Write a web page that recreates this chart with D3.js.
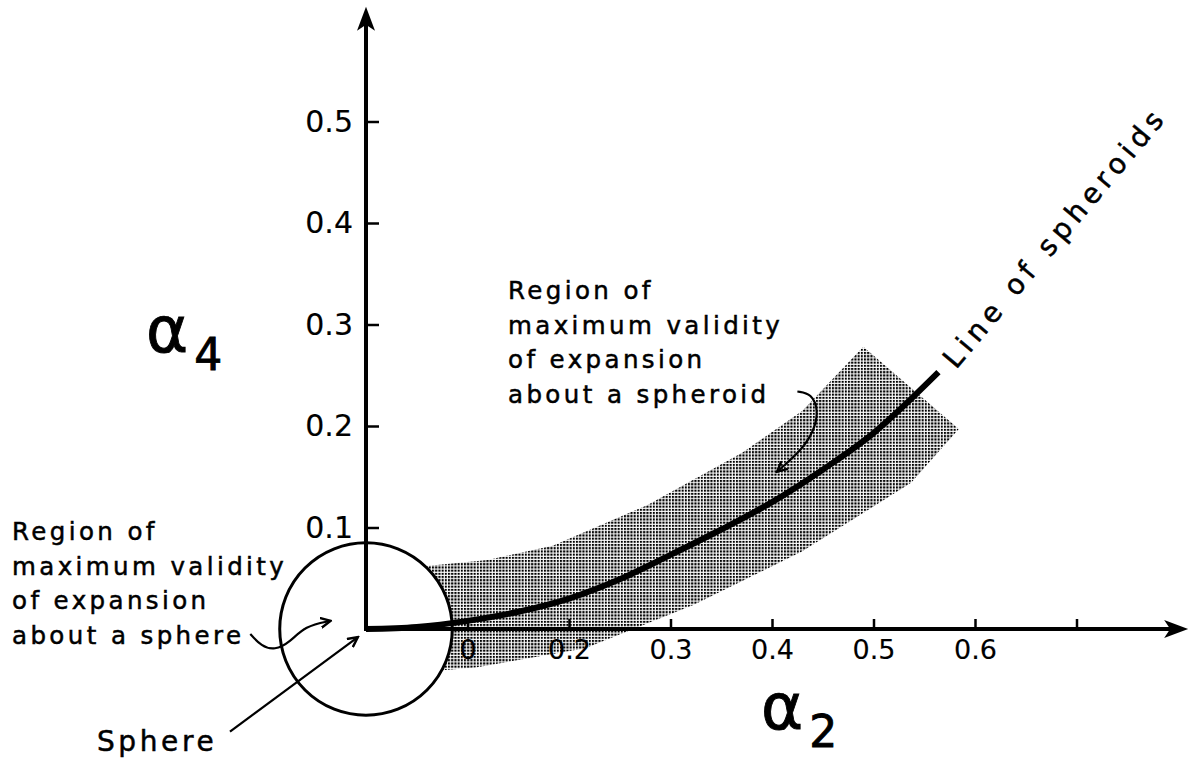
<!DOCTYPE html>
<html>
<head>
<meta charset="utf-8">
<script src="https://cdn.jsdelivr.net/npm/d3@7"></script>
<style>
  html, body { margin: 0; padding: 0; background: #fff; }
  svg { display: block; }
  text { font-family: "DejaVu Sans", sans-serif; fill: #000; stroke: #000; stroke-width: 0.5px; }
  .tick text { stroke-width: 0.15px; }
</style>
</head>
<body>
<svg id="chart" width="1189" height="759"></svg>
<script>
// axis ticks
const xTicks = [0.1, 0.2, 0.3, 0.4, 0.5, 0.6, 0.7]
const xTickLabels = ['0', '0.2', '0.3', '0.4', '0.5', '0.6', '']
const yTicks = [0.1, 0.2, 0.3, 0.4, 0.5]
const yTickLabels = ['0.1', '0.2', '0.3', '0.4', '0.5']

// line of spheroids [a2, a4]
const spheroidLine = [
  [0, 0], [0.05, 0.002], [0.1, 0.008], [0.15, 0.017], [0.2, 0.03], [0.25, 0.049],
  [0.3, 0.073], [0.35, 0.098], [0.4, 0.125], [0.45, 0.157], [0.5, 0.193], [0.564, 0.253]
]

// shaded band, upper and lower edge [a2, a4]
const bandUpper = [
  [0.0, 0.055], [0.06, 0.062], [0.12, 0.068], [0.184, 0.082], [0.277, 0.122],
  [0.371, 0.174], [0.43, 0.215], [0.49, 0.278]
]
const bandLower = [
  [0.584, 0.197], [0.537, 0.144], [0.429, 0.076], [0.323, 0.024],
  [0.216, -0.019], [0.108, -0.038], [0.02, -0.045]
]

// region about a sphere (radius in a4 units)
const sphereRegion = { a2: 0, a4: 0, r: 0.085 }

// leader lines [a2, a4]
const sphereArrow = [[-0.134, -0.101], [-0.008, -0.008]]
const sphereLeader = [[-0.114, -0.005], [-0.103, -0.017], [-0.09, -0.021], [-0.075, -0.013], [-0.06, 0.003], [-0.035, 0.008]]
const spheroidLeader = [[0.425, 0.234], [0.439, 0.232], [0.446, 0.215], [0.441, 0.194], [0.428, 0.175], [0.405, 0.155]]

const sphereText = ['Region of', 'maximum validity', 'of expansion', 'about a sphere']
const spheroidText = ['Region of', 'maximum validity', 'of expansion', 'about a spheroid']

const svg = d3.select('#chart')

const x = d3.scaleLinear().domain([0, 0.8]).range([366, 366 + 812])
const y = d3.scaleLinear().domain([0, 0.6]).range([629, 629 - 609])
const px = d => [x(d[0]), y(d[1])]

const defs = svg.append('defs')
const pat = defs.append('pattern')
  .attr('id', 'dots')
  .attr('patternUnits', 'userSpaceOnUse')
  .attr('width', 3.2).attr('height', 3.2)
pat.append('rect').attr('width', 2.1).attr('height', 2.1).attr('fill', '#000')

defs.append('marker')
  .attr('id', 'head')
  .attr('viewBox', '0 -6 12 12')
  .attr('refX', 10).attr('refY', 0)
  .attr('markerWidth', 12).attr('markerHeight', 12)
  .attr('markerUnits', 'userSpaceOnUse')
  .attr('orient', 'auto')
  .append('path')
  .attr('d', 'M0,-5L10,0L0,5')
  .attr('fill', 'none').attr('stroke', '#000').attr('stroke-width', 2.4)

// band
svg.append('path')
  .attr('d', d3.line()(bandUpper.concat(bandLower).map(px)) + 'Z')
  .attr('fill', 'url(#dots)')

// circle around the sphere
const rPx = y(0) - y(sphereRegion.r)
svg.append('circle')
  .attr('cx', x(sphereRegion.a2)).attr('cy', y(sphereRegion.a4))
  .attr('r', rPx)
  .attr('fill', '#fff').attr('stroke', '#000').attr('stroke-width', 3)

// axes
const xAxis = d3.axisBottom(x)
  .tickValues(xTicks)
  .tickFormat((d, i) => xTickLabels[i])
  .tickSizeInner(-10).tickSizeOuter(0).tickPadding(11)
const gx = svg.append('g').attr('transform', `translate(0,${y(0)})`).call(xAxis)
gx.select('.domain').remove()
gx.selectAll('.tick line').attr('stroke', '#000').attr('stroke-width', 2.5)
gx.selectAll('.tick text').attr('font-size', 27).attr('font-family', '"DejaVu Sans", sans-serif').attr('fill', '#000')

const yAxis = d3.axisLeft(y)
  .tickValues(yTicks)
  .tickFormat((d, i) => yTickLabels[i])
  .tickSizeInner(-13).tickSizeOuter(0).tickPadding(13)
const gy = svg.append('g').attr('transform', `translate(${x(0)},0)`).call(yAxis)
gy.select('.domain').remove()
gy.selectAll('.tick line').attr('stroke', '#000').attr('stroke-width', 2.5)
gy.selectAll('.tick text').attr('font-size', 30).attr('font-family', '"DejaVu Sans", sans-serif').attr('fill', '#000')

// axis lines with arrow heads
const xEnd = 0.81
const yEnd = 0.613
svg.append('line')
  .attr('x1', x(0) - 2).attr('y1', y(0)).attr('x2', x(xEnd) - 10).attr('y2', y(0))
  .attr('stroke', '#000').attr('stroke-width', 4)
svg.append('line')
  .attr('x1', x(0)).attr('y1', y(0) + 2).attr('x2', x(0)).attr('y2', y(yEnd) + 10)
  .attr('stroke', '#000').attr('stroke-width', 4)
svg.append('path')
  .attr('d', `M${x(xEnd)},${y(0)}L${x(xEnd) - 24},${y(0) - 9}L${x(xEnd) - 18},${y(0)}L${x(xEnd) - 24},${y(0) + 9}Z`)
  .attr('fill', '#000')
svg.append('path')
  .attr('d', `M${x(0)},${y(yEnd)}L${x(0) - 9},${y(yEnd) + 24}L${x(0)},${y(yEnd) + 18}L${x(0) + 9},${y(yEnd) + 24}Z`)
  .attr('fill', '#000')

// line of spheroids
svg.append('path')
  .attr('d', d3.line().curve(d3.curveCatmullRom)(spheroidLine.map(px)))
  .attr('fill', 'none').attr('stroke', '#000').attr('stroke-width', 6)
  .attr('stroke-linecap', 'butt')

// leaders
svg.append('path')
  .attr('d', d3.line()(sphereArrow.map(px)))
  .attr('fill', 'none').attr('stroke', '#000').attr('stroke-width', 2.2)
  .attr('marker-end', 'url(#head)')
svg.append('path')
  .attr('d', d3.line().curve(d3.curveBasis)(sphereLeader.map(px)))
  .attr('fill', 'none').attr('stroke', '#000').attr('stroke-width', 2.2)
  .attr('marker-end', 'url(#head)')
svg.append('path')
  .attr('d', d3.line().curve(d3.curveBasis)(spheroidLeader.map(px)))
  .attr('fill', 'none').attr('stroke', '#000').attr('stroke-width', 2.2)
  .attr('marker-end', 'url(#head)')

// text blocks
const block = (lines, left, base) => {
  svg.append('g').selectAll('text')
    .data(lines)
    .join('text')
    .attr('x', left)
    .attr('y', (d, i) => base + i * 34.5)
    .attr('font-size', 24.5)
    .attr('letter-spacing', 3.4)
    .text(d => d)
}
block(sphereText, 12, 540)
block(spheroidText, 508, 299)

svg.append('text')
  .attr('x', 97).attr('y', 751)
  .attr('font-size', 28).attr('letter-spacing', 3.6)
  .text('Sphere')

svg.append('text')
  .attr('transform', 'translate(956,370) rotate(-50)')
  .attr('font-size', 28).attr('letter-spacing', 5.4)
  .text('Line of spheroids')

// axis titles
const axisTitle = (gx0, base, sub) => {
  const t = svg.append('text').attr('x', gx0).attr('y', base).style('stroke-width', '0.9px')
  t.append('tspan').attr('font-size', 64).text('α')
  t.append('tspan').attr('font-size', 44).attr('dx', 6).attr('dy', 18).text(sub)
}
axisTitle(146, 352, '4')
axisTitle(761, 729, '2')
</script>
</body>
</html>
